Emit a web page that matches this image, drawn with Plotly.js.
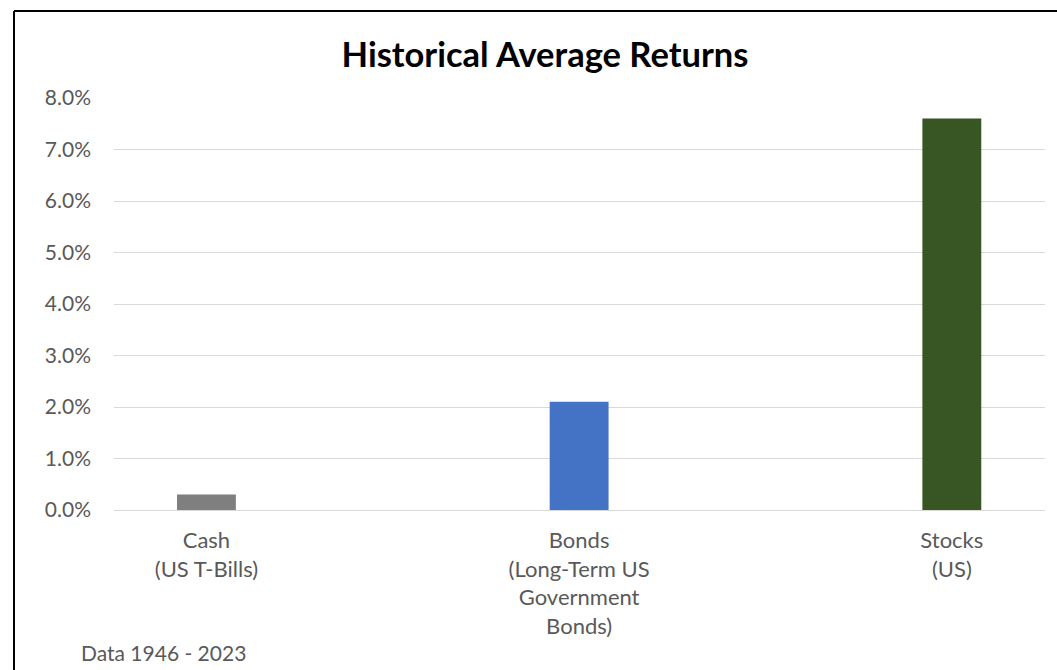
<!DOCTYPE html>
<html>
<head>
<meta charset="utf-8">
<script src="https://cdn.plot.ly/plotly-3.0.1.min.js"></script>
<style>
html,body{margin:0;padding:0;background:#fff;}
#chart{width:1057px;height:670px;}
</style>
</head>
<body>
<div id="chart"></div>
<script>
const categories = ["Cash<br>(US T-Bills)", "Bonds<br>(Long-Term US<br>Government<br>Bonds)", "Stocks<br>(US)"];
const returns = [0.003, 0.021, 0.076];
const barColors = ["#7F7F7F", "#4472C4", "#375623"];
const yTicks = [0, 0.01, 0.02, 0.03, 0.04, 0.05, 0.06, 0.07, 0.08];
const titleText = "Historical Average Returns";
const noteText = "Data 1946 - 2023";

const FONT = "Lato, 'Open Sans', sans-serif";

const trace = {
  type: "bar",
  x: categories,
  y: returns,
  width: 0.158,
  marker: {color: barColors},
  hoverinfo: "skip"
};

const layout = {
  width: 1057,
  height: 670,
  margin: {l: 114, r: 12, t: 98, b: 160},
  paper_bgcolor: "#ffffff",
  plot_bgcolor: "#ffffff",
  showlegend: false,
  title: {
    text: "<b>" + titleText + "</b>",
    font: {family: FONT, size: 34.5, color: "#000000"},
    xref: "container", x: 545/1057, xanchor: "center",
    yref: "container", y: 1 - 55/670, yanchor: "middle"
  },
  xaxis: {
    type: "category",
    range: [-0.248, 2.25],
    showgrid: false,
    zeroline: false,
    showline: false,
    ticks: "",
    ticklabelstandoff: 15,
    tickfont: {family: FONT, size: 22, color: "#595959"},
    fixedrange: true
  },
  yaxis: {
    range: [0, 0.08],
    tickvals: yTicks,
    tickformat: ".1%",
    showgrid: true,
    gridcolor: "#D9D9D9",
    gridwidth: 1,
    zeroline: true,
    zerolinecolor: "#D9D9D9",
    zerolinewidth: 1,
    showline: false,
    ticks: "",
    ticklabelstandoff: 22,
    tickfont: {family: FONT, size: 21, color: "#595959"},
    fixedrange: true
  },
  shapes: [
    {type: "line", xref: "paper", yref: "paper",
     x0: (14 - 114)/931, x1: 1.2, y0: (510 - 11)/412, y1: (510 - 11)/412,
     line: {color: "#000000", width: 2}},
    {type: "line", xref: "paper", yref: "paper",
     x0: (14 - 114)/931, x1: (14 - 114)/931, y0: (510 - 11)/412, y1: -0.5,
     line: {color: "#000000", width: 2}}
  ],
  annotations: [
    {text: noteText, xref: "paper", yref: "paper",
     x: (79 - 114)/931, y: (510 - 652)/412, xanchor: "left", yanchor: "middle",
     showarrow: false, font: {family: FONT, size: 21, color: "#595959"}}
  ]
};

Plotly.newPlot("chart", [trace], layout, {displayModeBar: false, staticPlot: true});
</script>
</body>
</html>
